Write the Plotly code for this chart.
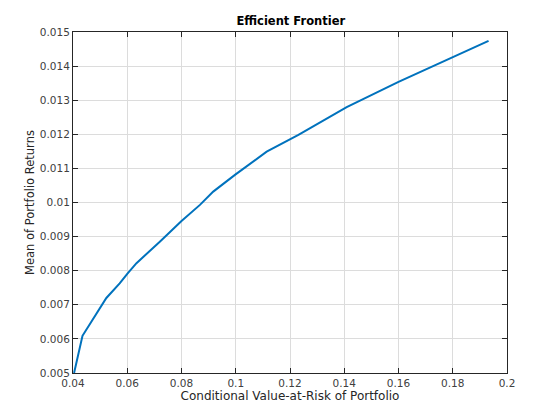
import plotly.graph_objects as go

cvar = [0.0404, 0.0435, 0.0523, 0.0572, 0.0600, 0.0634, 0.0720, 0.0800, 0.0868,
        0.0917, 0.0997, 0.1114, 0.1231, 0.1409, 0.1600, 0.1799, 0.1932]
ret = [0.00500, 0.00609, 0.00720, 0.00763, 0.00791, 0.00822, 0.00885, 0.00946, 0.00993,
       0.01032, 0.01081, 0.01149, 0.01198, 0.01280, 0.01354, 0.01427, 0.01474]

xticks = [0.04, 0.06, 0.08, 0.10, 0.12, 0.14, 0.16, 0.18, 0.20]
xticktext = ["0.04", "0.06", "0.08", "0.1", "0.12", "0.14", "0.16", "0.18", "0.2"]
yticks = [0.005, 0.006, 0.007, 0.008, 0.009, 0.010, 0.011, 0.012, 0.013, 0.014, 0.015]
yticktext = ["0.005", "0.006", "0.007", "0.008", "0.009", "0.01", "0.011", "0.012",
             "0.013", "0.014", "0.015"]

fig = go.Figure()
fig.add_trace(go.Scatter(x=cvar, y=ret, mode="lines",
                         line=dict(color="#0072BD", width=2), showlegend=False))

axis_common = dict(showline=True, linecolor="#262626", linewidth=1, mirror="ticks",
                   ticks="inside", ticklen=5, tickcolor="#262626", automargin=False,
                   showgrid=True, gridcolor="#dcdcdc", gridwidth=1, zeroline=False,
                   tickfont=dict(family="DejaVu Sans", size=10.5, color="#404040"))

# page body adds an 8px offset; margins are compensated for that
fig.update_layout(
    width=560, height=420,
    margin=dict(l=65, r=61, t=24, b=55),
    paper_bgcolor="white", plot_bgcolor="white",
    title=dict(text="<b>Efficient Frontier</b>", x=(289 - 8) / 560, xanchor="center",
               xref="paper",
               y=1 - 13 / 420, yanchor="middle",
               font=dict(family="DejaVu Sans", size=11.5, color="black")),
    xaxis=dict(range=[0.04, 0.2], tickvals=xticks, ticktext=xticktext,
               title=dict(text="Conditional Value-at-Risk of Portfolio", standoff=2,
                          font=dict(family="DejaVu Sans", size=12, color="#262626")),
               **axis_common),
    yaxis=dict(range=[0.005, 0.015], tickvals=yticks, ticktext=yticktext,
               title=dict(text="Mean of Portfolio Returns", standoff=2,
                          font=dict(family="DejaVu Sans", size=11.5, color="#262626")),
               **axis_common),
)

fig.write_html("out.html")
